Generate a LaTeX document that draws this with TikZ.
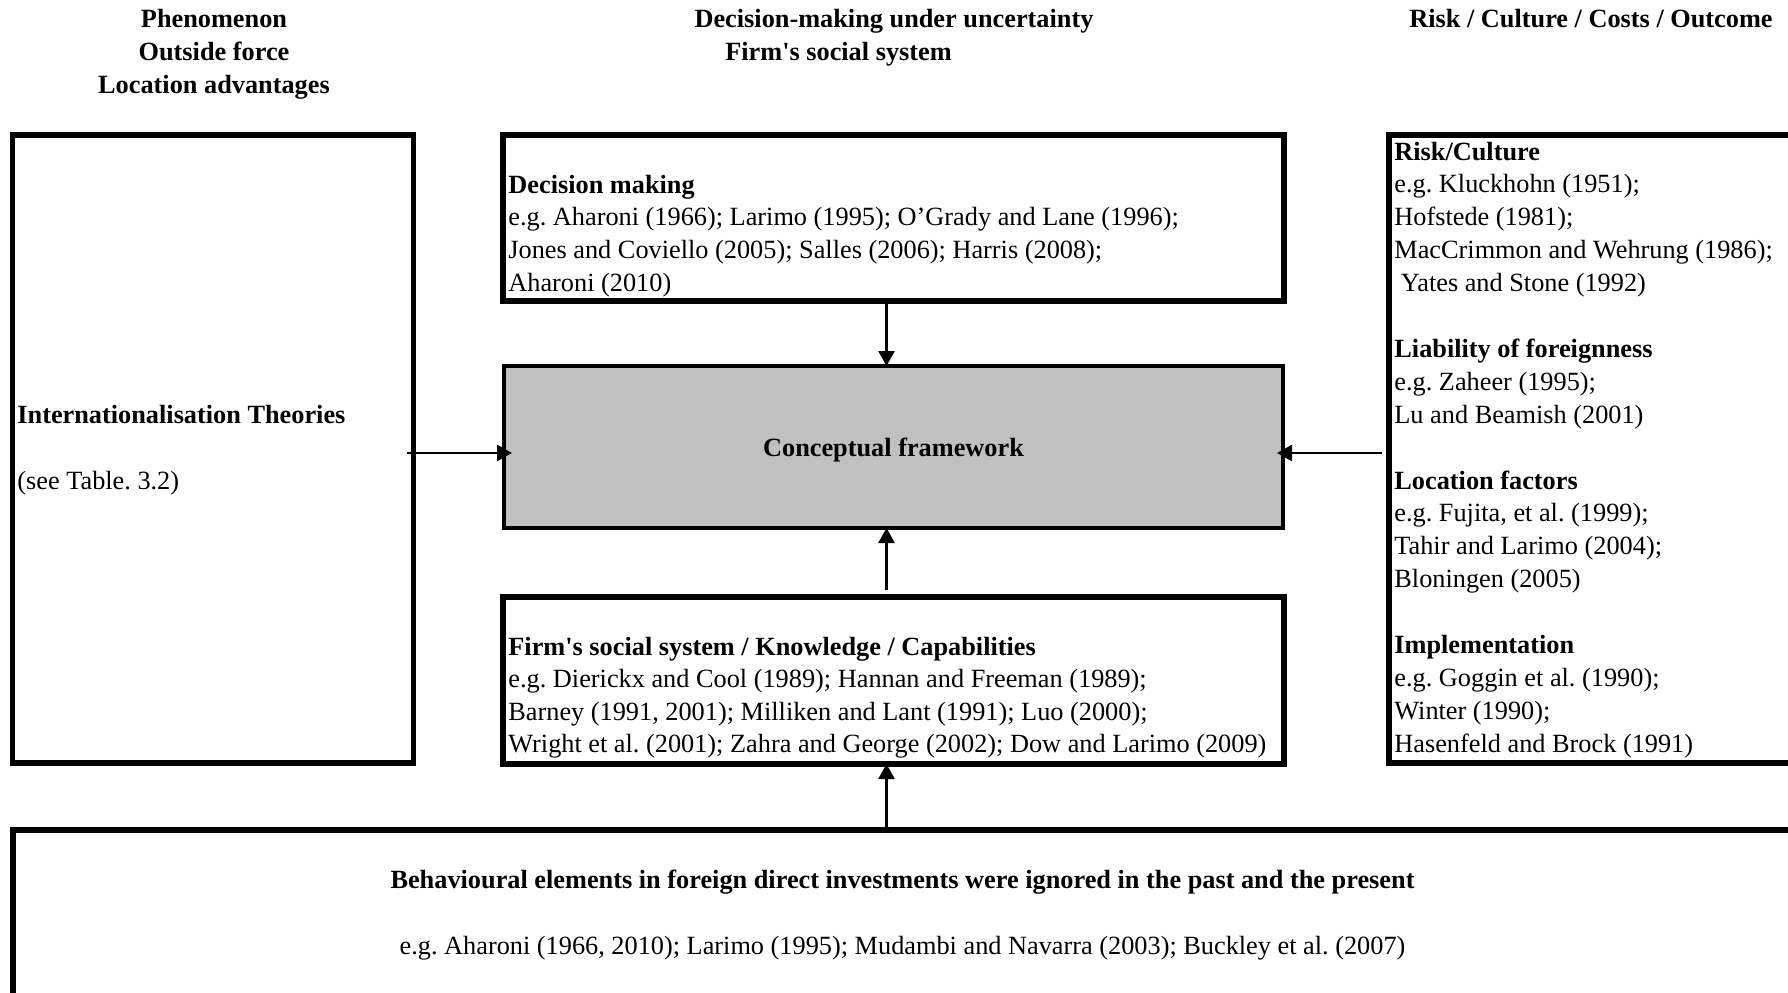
\documentclass[tikz,border=0pt]{standalone}
\usepackage{fontspec}
\setmainfont{Liberation Serif}[Ligatures=TeXOff]
\usepackage{tikz}
\usetikzlibrary{arrows.meta,positioning,calc}
\definecolor{framegray}{HTML}{C0C0C0}
\frenchspacing

\begin{document}
\begin{tikzpicture}[x=0.5pt, y=-0.5pt, >={Triangle[length=7.5pt, width=8pt]},
  box/.style={draw, line width=2.6pt, inner sep=0pt, outer sep=0pt},
  cfbox/.style={draw, line width=1.75pt, fill=framegray, inner sep=0pt, outer sep=0pt},
  txt/.style={inner sep=0pt, font=\fontsize{13.15}{16.45}\selectfont},
  head/.style={txt, font=\fontsize{13.15}{16.45}\selectfont\bfseries},
  arr/.style={->, line width=1.35pt}]
  \useasboundingbox (0,0) rectangle (1788,992);

  % column headings
  \foreach \y/\lab [count=\i] in {27/Phenomenon, 60/Outside force, 93/Location advantages} {
    \node[head, anchor=base] (ph\i) at (214, \y) {\lab};
  }
  \node[head, anchor=base] (dmu) at (894, 27) {Decision-making under uncertainty};
  \node[head, anchor=base] (fss) at (838.5, 60) {Firm's social system};
  \node[head, anchor=base] (rcco) at (1591, 27) {Risk / Culture / Costs / Outcome};

  % boxes
  \node[box, minimum width=200.5pt, minimum height=314pt] (theo) at (213, 449) {};
  \node[box, minimum width=390.5pt, minimum height=83pt] (dec) at (893.5, 218) {};
  \node[cfbox, minimum width=389.5pt, minimum height=81pt, text depth=0pt, font=\fontsize{13.15}{16.45}\selectfont\bfseries] (cf) at (893.5, 447) {Conceptual framework};
  \node[box, minimum width=390.5pt, minimum height=83.5pt] (firm) at (893.5, 680.5) {};
  \node[box, anchor=north west, minimum width=210pt, minimum height=314pt] (risk) at (1389, 135) {};
  \node[box, anchor=north west, minimum width=900pt, minimum height=100pt] (behav) at (13, 830) {};

  % left box
  \node[head, anchor=base west] (intth) at (17, 423) {Internationalisation Theories};
  \node[txt, anchor=base west] (seetab) at (17, 489) {(see Table. 3.2)};

  % decision making
  \foreach \k/\lab in {0/\textbf{Decision making},
      1/e.g. Aharoni (1966); Larimo (1995); O’Grady and Lane (1996);,
      2/Jones and Coviello (2005); Salles (2006); Harris (2008);,
      3/Aharoni (2010)} {
    \node[txt, anchor=base west] (dm\k) at (508, 193+32.7*\k) {\lab};
  }

  % firm's social system
  \foreach \k/\lab in {0/\textbf{Firm's social system / Knowledge / Capabilities},
      1/e.g. Dierickx and Cool (1989); Hannan and Freeman (1989);,
      2/{Barney (1991, 2001); Milliken and Lant (1991); Luo (2000);},
      3/Wright et al. (2001); Zahra and George (2002); Dow and Larimo (2009)} {
    \node[txt, anchor=base west] (fs\k) at (508, 655+32.6*\k) {\lab};
  }

  % risk / culture column
  \foreach \k/\lab in {0/\textbf{Risk/Culture}, 1/e.g. Kluckhohn (1951);,
      2/Hofstede (1981);, 3/MacCrimmon and Wehrung (1986);,
      4/\ Yates and Stone (1992),
      6/\textbf{Liability of foreignness}, 7/e.g. Zaheer (1995);,
      8/Lu and Beamish (2001),
      10/\textbf{Location factors}, 11/{e.g. Fujita, et al. (1999);},
      12/Tahir and Larimo (2004);, 13/Bloningen (2005),
      15/\textbf{Implementation}, 16/e.g. Goggin et al. (1990);,
      17/Winter (1990);, 18/Hasenfeld and Brock (1991)} {
    \node[txt, anchor=base west] (rc\k) at (1394, 160+32.9*\k) {\lab};
  }

  % bottom box
  \node[head, anchor=base] (behtit) at (902.5, 888) {Behavioural elements in foreign direct investments were ignored in the past and the present};
  \node[txt, anchor=base] (behref) at (902.5, 954) {e.g. Aharoni (1966, 2010); Larimo (1995); Mudambi and Navarra (2003); Buckley et al. (2007)};

  % arrows
  \coordinate (arow) at (0, 453);
  \draw[arr] ([xshift=-3.5pt]dec.south) -- ([xshift=-3.5pt]cf.north);
  \draw[arr] ([xshift=-3.5pt, yshift=3.5pt]firm.north) -- ([xshift=-3.5pt]cf.south);
  \draw[arr] ($(firm.south |- behav.north)+(-7,0)$) -- ([xshift=-3.5pt]firm.south);
  \draw[arr] ($(theo.east |- arow)+(-7,0)$) -- ($(cf.west |- arow)+(8,0)$);
  \draw[arr] ($(risk.west |- arow)+(-7,0)$) -- ($(cf.east |- arow)+(-6,0)$);
\end{tikzpicture}
\end{document}
